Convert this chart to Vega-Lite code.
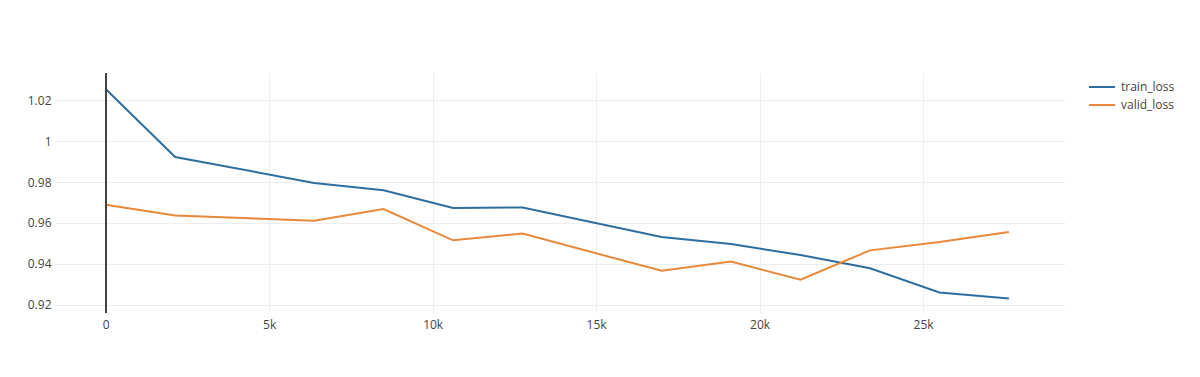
{
  "$schema": "https://vega.github.io/schema/vega-lite/v6.json",
  "width": 1010,
  "height": 240,
  "autosize": {"type": "none"},
  "padding": {"left": 55, "top": 73, "right": 135, "bottom": 64},
  "background": "white",
  "config": {
    "font": "Open Sans",
    "view": {"stroke": null},
    "axis": {"labelFont": "Open Sans", "labelFontSize": 12, "labelColor": "#444", "gridColor": "#eeeeee", "gridWidth": 1, "domain": false, "ticks": false, "title": null}
  },
  "data": {
    "values": [
      {"step": 0, "loss": 1.0256, "series": "train_loss"},
      {"step": 2125, "loss": 0.9923, "series": "train_loss"},
      {"step": 6375, "loss": 0.9796, "series": "train_loss"},
      {"step": 8500, "loss": 0.9760, "series": "train_loss"},
      {"step": 10625, "loss": 0.9673, "series": "train_loss"},
      {"step": 12750, "loss": 0.9676, "series": "train_loss"},
      {"step": 17000, "loss": 0.9531, "series": "train_loss"},
      {"step": 19125, "loss": 0.9497, "series": "train_loss"},
      {"step": 21250, "loss": 0.9443, "series": "train_loss"},
      {"step": 23375, "loss": 0.9378, "series": "train_loss"},
      {"step": 25500, "loss": 0.9260, "series": "train_loss"},
      {"step": 27625, "loss": 0.9230, "series": "train_loss"},
      {"step": 0, "loss": 0.9689, "series": "valid_loss"},
      {"step": 2125, "loss": 0.9637, "series": "valid_loss"},
      {"step": 6375, "loss": 0.9611, "series": "valid_loss"},
      {"step": 8500, "loss": 0.9668, "series": "valid_loss"},
      {"step": 10625, "loss": 0.9515, "series": "valid_loss"},
      {"step": 12750, "loss": 0.9548, "series": "valid_loss"},
      {"step": 17000, "loss": 0.9366, "series": "valid_loss"},
      {"step": 19125, "loss": 0.9411, "series": "valid_loss"},
      {"step": 21250, "loss": 0.9322, "series": "valid_loss"},
      {"step": 23375, "loss": 0.9466, "series": "valid_loss"},
      {"step": 25500, "loss": 0.9507, "series": "valid_loss"},
      {"step": 27625, "loss": 0.9556, "series": "valid_loss"}
    ]
  },
  "layer": [
    {
      "mark": {"type": "line", "strokeWidth": 2, "clip": true},
      "encoding": {
        "x": {
          "field": "step", "type": "quantitative",
          "scale": {"domain": [-1550, 29340], "nice": false, "zero": false},
          "axis": {"values": [0, 5000, 10000, 15000, 20000, 25000], "grid": true, "labelExpr": "datum.value == 0 ? '0' : (datum.value / 1000) + 'k'", "labelPadding": 6}
        },
        "y": {
          "field": "loss", "type": "quantitative",
          "scale": {"domain": [0.91594, 1.0334], "nice": false, "zero": false},
          "axis": {"values": [0.92, 0.94, 0.96, 0.98, 1.0, 1.02], "labelExpr": "datum.value == 1 ? '1' : format(datum.value, '.2f')", "labelPadding": 4}
        },
        "color": {
          "field": "series", "type": "nominal",
          "scale": {"domain": ["train_loss", "valid_loss"], "range": ["#2e6e9e", "#e8883a"]},
          "legend": {"title": null, "orient": "none", "legendX": 1039, "legendY": 6, "symbolType": "M-2,0H2", "symbolSize": 170, "symbolStrokeWidth": 2, "labelFontSize": 12, "labelColor": "#444", "labelFont": "Open Sans", "rowPadding": 4, "labelOffset": 11}
        }
      }
    },
    {
      "mark": {"type": "rule", "color": "#444444", "strokeWidth": 1},
      "encoding": {"x": {"datum": 0, "type": "quantitative"}}
    }
  ]
}
